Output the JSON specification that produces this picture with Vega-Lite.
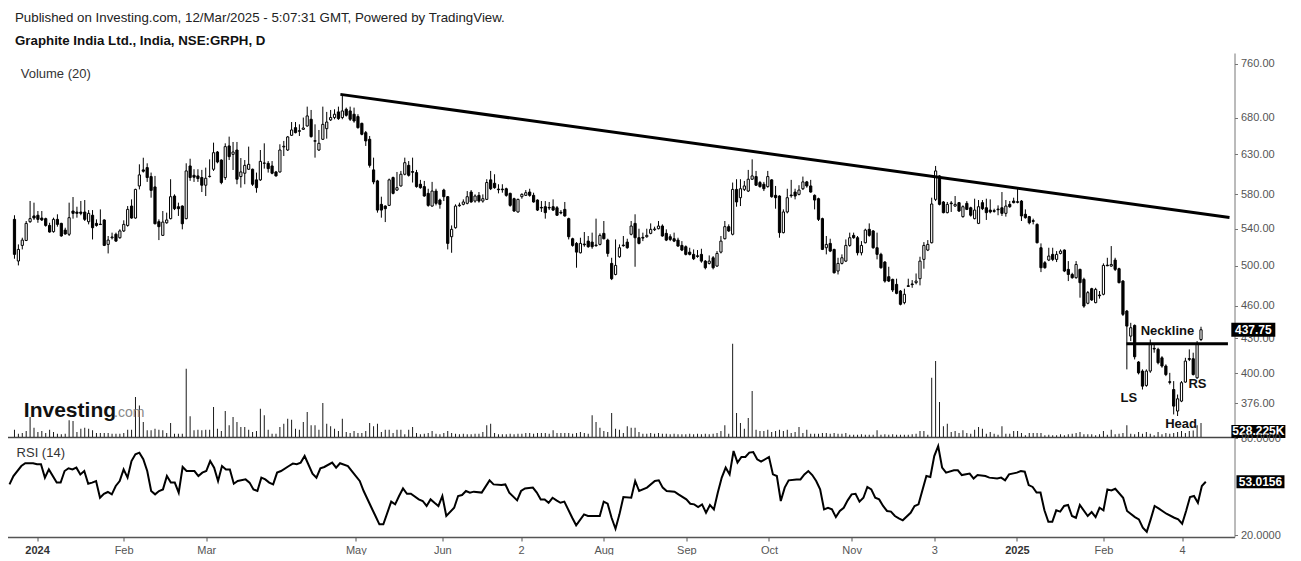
{
"$schema":"https://vega.github.io/schema/vega-lite/v6.json",
"background":"white",
"padding":{"left":4.5,"top":11,"right":0,"bottom":0},
"bounds":"flush",
"config":{"view":{"stroke":null},"font":"Liberation Sans","concat":{"spacing":0}},
"spacing":0,
"title":{"text":"Published on Investing.com, 12/Mar/2025 - 5:07:31 GMT, Powered by TradingView.","subtitle":"Graphite India Ltd., India, NSE:GRPH, D","anchor":"start","dx":9.5,"fontSize":13.3,"fontWeight":"normal","color":"#222","subtitleFontSize":13.3,"subtitleFontWeight":"bold","subtitleColor":"#111","subtitlePadding":9,"offset":6,"font":"Liberation Sans","subtitleFont":"Liberation Sans"},
"datasets":{
"candles":[
{"i":0,"o":550.5,"h":555.2,"l":507.3,"c":511.9,"v":277},
{"i":1,"o":504.9,"h":522.6,"l":500.3,"c":517.2,"v":126},
{"i":2,"o":521.5,"h":529.9,"l":517.2,"c":527.3,"v":151},
{"i":3,"o":526.9,"h":548.6,"l":526.2,"c":545.9,"v":226},
{"i":4,"o":547.8,"h":571.9,"l":546.6,"c":551.3,"v":754},
{"i":5,"o":554.4,"h":569.9,"l":549.8,"c":552.0,"v":352},
{"i":6,"o":555.2,"h":560.1,"l":546.6,"c":550.5,"v":189},
{"i":7,"o":552.0,"h":560.1,"l":548.6,"c":549.8,"v":226},
{"i":8,"o":551.3,"h":552.4,"l":542.2,"c":543.6,"v":151},
{"i":9,"o":543.6,"h":546.6,"l":535.5,"c":536.2,"v":277},
{"i":10,"o":536.6,"h":552.4,"l":535.5,"c":550.5,"v":189},
{"i":11,"o":550.5,"h":556.3,"l":542.2,"c":544.8,"v":126},
{"i":12,"o":545.9,"h":546.6,"l":531.0,"c":531.8,"v":101},
{"i":13,"o":538.4,"h":541.0,"l":533.3,"c":534.0,"v":126},
{"i":14,"o":533.7,"h":569.9,"l":531.8,"c":552.4,"v":629},
{"i":15,"o":560.1,"h":576.6,"l":551.3,"c":557.4,"v":603},
{"i":16,"o":558.9,"h":565.1,"l":552.4,"c":557.4,"v":189},
{"i":17,"o":558.9,"h":571.9,"l":555.2,"c":557.4,"v":314},
{"i":18,"o":558.9,"h":573.0,"l":548.6,"c":550.5,"v":352},
{"i":19,"o":547.8,"h":561.2,"l":544.8,"c":557.4,"v":314},
{"i":20,"o":555.2,"h":561.2,"l":528.0,"c":541.0,"v":251},
{"i":21,"o":545.9,"h":550.5,"l":542.2,"c":543.6,"v":151},
{"i":22,"o":545.0,"h":562.0,"l":544.0,"c":544.6,"v":151},
{"i":23,"o":549.8,"h":550.5,"l":520.8,"c":521.5,"v":151},
{"i":24,"o":522.6,"h":531.8,"l":512.9,"c":527.3,"v":151},
{"i":25,"o":529.9,"h":535.5,"l":528.0,"c":530.7,"v":126},
{"i":26,"o":533.7,"h":535.5,"l":525.5,"c":526.2,"v":126},
{"i":27,"o":529.9,"h":539.2,"l":528.8,"c":537.4,"v":126},
{"i":28,"o":537.4,"h":549.4,"l":536.2,"c":544.8,"v":151},
{"i":29,"o":543.6,"h":565.9,"l":542.2,"c":562.0,"v":277},
{"i":30,"o":565.9,"h":573.8,"l":551.3,"c":552.0,"v":277},
{"i":31,"o":552.0,"h":586.6,"l":551.3,"c":585.8,"v":1508},
{"i":32,"o":590.0,"h":617.1,"l":585.8,"c":603.7,"v":1194},
{"i":33,"o":610.0,"h":625.6,"l":606.6,"c":608.3,"v":566},
{"i":34,"o":612.9,"h":618.4,"l":595.0,"c":600.4,"v":251},
{"i":35,"o":601.6,"h":606.6,"l":575.8,"c":584.6,"v":251},
{"i":36,"o":588.8,"h":602.4,"l":544.8,"c":545.5,"v":314},
{"i":37,"o":547.8,"h":550.5,"l":527.3,"c":542.2,"v":277},
{"i":38,"o":532.5,"h":560.1,"l":531.8,"c":547.4,"v":251},
{"i":39,"o":546.6,"h":558.2,"l":545.5,"c":549.8,"v":151},
{"i":40,"o":551.3,"h":598.3,"l":550.5,"c":577.0,"v":528},
{"i":41,"o":577.8,"h":579.8,"l":561.2,"c":562.8,"v":126},
{"i":42,"o":565.1,"h":569.9,"l":554.4,"c":562.8,"v":126},
{"i":43,"o":565.9,"h":566.7,"l":539.2,"c":545.5,"v":126},
{"i":44,"o":551.3,"h":618.4,"l":550.5,"c":608.7,"v":2577},
{"i":45,"o":615.0,"h":624.3,"l":596.3,"c":600.4,"v":779},
{"i":46,"o":603.2,"h":610.8,"l":595.0,"c":600.8,"v":251},
{"i":47,"o":602.4,"h":610.8,"l":595.0,"c":599.1,"v":277},
{"i":48,"o":600.4,"h":610.0,"l":582.6,"c":590.9,"v":251},
{"i":49,"o":590.9,"h":612.9,"l":577.8,"c":599.5,"v":277},
{"i":50,"o":601.6,"h":623.5,"l":600.4,"c":602.0,"v":277},
{"i":51,"o":610.8,"h":645.5,"l":608.7,"c":632.2,"v":1131},
{"i":52,"o":633.1,"h":634.4,"l":618.4,"c":620.1,"v":314},
{"i":53,"o":622.6,"h":623.5,"l":592.1,"c":594.2,"v":226},
{"i":54,"o":600.3,"h":644.6,"l":597.5,"c":640.2,"v":980},
{"i":55,"o":641.1,"h":653.6,"l":622.6,"c":627.0,"v":440},
{"i":56,"o":630.0,"h":646.4,"l":609.9,"c":633.1,"v":754},
{"i":57,"o":635.7,"h":646.4,"l":592.1,"c":598.3,"v":566},
{"i":58,"o":601.6,"h":625.2,"l":587.9,"c":607.4,"v":377},
{"i":59,"o":605.8,"h":622.6,"l":592.1,"c":615.8,"v":377},
{"i":60,"o":610.8,"h":640.2,"l":610.0,"c":617.1,"v":277},
{"i":61,"o":610.8,"h":611.6,"l":590.0,"c":592.1,"v":189},
{"i":62,"o":597.5,"h":606.6,"l":581.8,"c":587.9,"v":226},
{"i":63,"o":597.5,"h":635.7,"l":596.2,"c":620.9,"v":1068},
{"i":64,"o":618.4,"h":644.6,"l":611.6,"c":618.8,"v":817},
{"i":65,"o":618.4,"h":621.3,"l":606.6,"c":611.6,"v":277},
{"i":66,"o":615.0,"h":621.3,"l":604.5,"c":605.8,"v":126},
{"i":67,"o":607.4,"h":608.7,"l":601.6,"c":602.4,"v":126},
{"i":68,"o":607.4,"h":643.3,"l":606.6,"c":635.7,"v":377},
{"i":69,"o":639.8,"h":647.8,"l":627.8,"c":640.7,"v":503},
{"i":70,"o":635.7,"h":654.5,"l":634.4,"c":653.2,"v":691},
{"i":71,"o":655.4,"h":673.7,"l":654.5,"c":662.7,"v":654},
{"i":72,"o":665.9,"h":673.7,"l":658.1,"c":659.0,"v":314},
{"i":73,"o":660.8,"h":670.5,"l":654.5,"c":661.8,"v":277},
{"i":74,"o":663.6,"h":680.0,"l":662.7,"c":665.4,"v":566},
{"i":75,"o":668.2,"h":695.6,"l":667.3,"c":682.3,"v":943},
{"i":76,"o":677.6,"h":690.8,"l":652.3,"c":653.6,"v":440},
{"i":77,"o":647.3,"h":670.5,"l":625.7,"c":648.2,"v":440},
{"i":78,"o":635.7,"h":662.7,"l":634.4,"c":644.6,"v":277},
{"i":79,"o":650.0,"h":695.6,"l":649.1,"c":670.5,"v":1282},
{"i":80,"o":664.5,"h":688.0,"l":650.9,"c":673.7,"v":503},
{"i":81,"o":676.7,"h":690.8,"l":675.2,"c":680.0,"v":402},
{"i":82,"o":680.0,"h":691.8,"l":677.6,"c":684.7,"v":314},
{"i":83,"o":688.0,"h":695.6,"l":676.7,"c":678.5,"v":226},
{"i":84,"o":680.0,"h":711.1,"l":677.6,"c":689.4,"v":691},
{"i":85,"o":691.8,"h":694.2,"l":681.4,"c":683.2,"v":189},
{"i":86,"o":689.4,"h":695.6,"l":675.2,"c":677.6,"v":151},
{"i":87,"o":684.7,"h":694.2,"l":672.8,"c":675.2,"v":226},
{"i":88,"o":681.4,"h":684.7,"l":664.5,"c":665.9,"v":151},
{"i":89,"o":671.9,"h":672.8,"l":655.4,"c":656.8,"v":151},
{"i":90,"o":659.0,"h":661.3,"l":641.1,"c":647.8,"v":226},
{"i":91,"o":650.0,"h":654.5,"l":612.9,"c":615.8,"v":528},
{"i":92,"o":610.0,"h":625.7,"l":592.1,"c":595.0,"v":402},
{"i":93,"o":596.2,"h":597.5,"l":558.2,"c":561.2,"v":503},
{"i":94,"o":567.9,"h":577.0,"l":552.4,"c":561.2,"v":189},
{"i":95,"o":565.9,"h":566.7,"l":547.4,"c":562.8,"v":277},
{"i":96,"o":566.7,"h":599.1,"l":565.9,"c":597.5,"v":277},
{"i":97,"o":600.4,"h":601.6,"l":579.8,"c":581.0,"v":151},
{"i":98,"o":585.0,"h":607.4,"l":583.8,"c":587.9,"v":277},
{"i":99,"o":590.0,"h":608.7,"l":589.2,"c":604.5,"v":277},
{"i":100,"o":604.5,"h":625.7,"l":603.2,"c":619.2,"v":101},
{"i":101,"o":615.8,"h":621.3,"l":601.6,"c":603.2,"v":277},
{"i":102,"o":607.9,"h":625.7,"l":594.2,"c":607.0,"v":377},
{"i":103,"o":606.6,"h":610.0,"l":587.9,"c":589.2,"v":151},
{"i":104,"o":592.1,"h":597.5,"l":586.6,"c":587.9,"v":101},
{"i":105,"o":589.2,"h":596.2,"l":577.0,"c":577.8,"v":126},
{"i":106,"o":581.0,"h":586.6,"l":565.1,"c":566.7,"v":151},
{"i":107,"o":565.9,"h":595.0,"l":565.1,"c":583.8,"v":226},
{"i":108,"o":583.8,"h":586.6,"l":566.7,"c":569.1,"v":126},
{"i":109,"o":573.0,"h":574.6,"l":562.8,"c":567.9,"v":101},
{"i":110,"o":585.0,"h":586.6,"l":571.8,"c":577.0,"v":151},
{"i":111,"o":577.0,"h":577.8,"l":517.2,"c":523.7,"v":226},
{"i":112,"o":531.0,"h":543.6,"l":513.6,"c":539.2,"v":151},
{"i":113,"o":541.0,"h":567.9,"l":540.0,"c":565.9,"v":126},
{"i":114,"o":566.3,"h":569.9,"l":565.1,"c":567.1,"v":101},
{"i":115,"o":567.9,"h":573.8,"l":566.7,"c":570.7,"v":126},
{"i":116,"o":569.1,"h":583.8,"l":567.9,"c":577.0,"v":101},
{"i":117,"o":582.6,"h":585.0,"l":569.9,"c":570.7,"v":101},
{"i":118,"o":571.8,"h":579.8,"l":569.9,"c":577.8,"v":126},
{"i":119,"o":578.6,"h":582.6,"l":569.9,"c":571.8,"v":126},
{"i":120,"o":571.8,"h":579.8,"l":569.9,"c":574.6,"v":189},
{"i":121,"o":573.8,"h":598.3,"l":573.0,"c":594.2,"v":440},
{"i":122,"o":597.5,"h":608.7,"l":585.0,"c":586.6,"v":503},
{"i":123,"o":593.3,"h":604.5,"l":586.6,"c":587.9,"v":151},
{"i":124,"o":586.2,"h":592.1,"l":581.0,"c":585.4,"v":101},
{"i":125,"o":586.2,"h":592.1,"l":581.8,"c":585.4,"v":101},
{"i":126,"o":586.6,"h":587.9,"l":577.0,"c":578.6,"v":101},
{"i":127,"o":581.0,"h":581.8,"l":565.1,"c":566.7,"v":126},
{"i":128,"o":574.6,"h":575.8,"l":559.0,"c":560.1,"v":101},
{"i":129,"o":559.0,"h":574.6,"l":558.2,"c":573.8,"v":126},
{"i":130,"o":577.0,"h":581.0,"l":574.6,"c":579.8,"v":126},
{"i":131,"o":578.6,"h":585.0,"l":577.8,"c":581.8,"v":151},
{"i":132,"o":582.6,"h":586.6,"l":577.0,"c":578.6,"v":151},
{"i":133,"o":578.6,"h":581.8,"l":569.9,"c":570.7,"v":126},
{"i":134,"o":573.0,"h":573.8,"l":560.1,"c":561.2,"v":151},
{"i":135,"o":564.3,"h":571.8,"l":559.0,"c":563.6,"v":151},
{"i":136,"o":565.1,"h":571.8,"l":551.3,"c":558.2,"v":151},
{"i":137,"o":564.3,"h":570.7,"l":561.2,"c":563.6,"v":126},
{"i":138,"o":565.1,"h":573.8,"l":560.1,"c":561.2,"v":251},
{"i":139,"o":563.9,"h":565.9,"l":554.4,"c":555.2,"v":151},
{"i":140,"o":558.6,"h":561.2,"l":556.3,"c":557.8,"v":151},
{"i":141,"o":562.0,"h":570.7,"l":553.6,"c":554.4,"v":151},
{"i":142,"o":551.3,"h":552.4,"l":528.0,"c":531.0,"v":151},
{"i":143,"o":528.8,"h":529.9,"l":520.1,"c":521.5,"v":126},
{"i":144,"o":523.7,"h":525.1,"l":497.9,"c":514.3,"v":151},
{"i":145,"o":513.6,"h":529.9,"l":512.9,"c":523.7,"v":189},
{"i":146,"o":523.0,"h":536.2,"l":520.1,"c":522.2,"v":151},
{"i":147,"o":526.2,"h":531.8,"l":519.0,"c":520.1,"v":126},
{"i":148,"o":525.1,"h":535.5,"l":517.9,"c":520.1,"v":817},
{"i":149,"o":521.9,"h":551.3,"l":520.1,"c":521.2,"v":566},
{"i":150,"o":522.6,"h":534.7,"l":521.5,"c":532.5,"v":352},
{"i":151,"o":534.7,"h":548.6,"l":528.0,"c":528.8,"v":226},
{"i":152,"o":527.3,"h":528.8,"l":509.4,"c":512.9,"v":189},
{"i":153,"o":502.4,"h":508.3,"l":485.3,"c":486.7,"v":905},
{"i":154,"o":491.0,"h":528.0,"l":490.1,"c":500.3,"v":314},
{"i":155,"o":509.4,"h":522.6,"l":508.3,"c":519.0,"v":277},
{"i":156,"o":521.9,"h":531.8,"l":520.1,"c":521.2,"v":151},
{"i":157,"o":525.1,"h":528.8,"l":517.9,"c":519.0,"v":402},
{"i":158,"o":533.7,"h":548.6,"l":532.5,"c":542.9,"v":352},
{"i":159,"o":545.9,"h":556.3,"l":498.9,"c":529.9,"v":352},
{"i":160,"o":529.9,"h":539.9,"l":522.6,"c":523.7,"v":189},
{"i":161,"o":530.3,"h":535.5,"l":526.2,"c":529.5,"v":126},
{"i":162,"o":531.0,"h":539.9,"l":529.9,"c":532.5,"v":126},
{"i":163,"o":534.7,"h":545.9,"l":533.7,"c":539.2,"v":151},
{"i":164,"o":538.8,"h":542.2,"l":537.4,"c":539.6,"v":126},
{"i":165,"o":539.9,"h":548.6,"l":539.2,"c":542.9,"v":151},
{"i":166,"o":542.9,"h":544.8,"l":531.0,"c":531.8,"v":126},
{"i":167,"o":534.7,"h":539.2,"l":526.2,"c":527.3,"v":126},
{"i":168,"o":531.0,"h":533.7,"l":526.2,"c":528.0,"v":101},
{"i":169,"o":528.8,"h":535.5,"l":525.1,"c":526.2,"v":126},
{"i":170,"o":527.3,"h":529.9,"l":520.1,"c":520.8,"v":101},
{"i":171,"o":521.5,"h":526.2,"l":515.4,"c":516.5,"v":101},
{"i":172,"o":520.1,"h":521.5,"l":510.8,"c":511.9,"v":101},
{"i":173,"o":514.3,"h":519.0,"l":510.8,"c":511.9,"v":126},
{"i":174,"o":511.9,"h":517.2,"l":505.9,"c":507.3,"v":101},
{"i":175,"o":510.4,"h":516.5,"l":508.3,"c":509.7,"v":126},
{"i":176,"o":511.9,"h":517.9,"l":503.1,"c":504.8,"v":101},
{"i":177,"o":504.8,"h":505.9,"l":496.2,"c":497.9,"v":126},
{"i":178,"o":502.4,"h":510.8,"l":501.3,"c":504.8,"v":101},
{"i":179,"o":508.3,"h":510.1,"l":496.2,"c":497.9,"v":126},
{"i":180,"o":499.6,"h":515.4,"l":498.9,"c":512.9,"v":151},
{"i":181,"o":514.3,"h":531.8,"l":512.9,"c":526.2,"v":226},
{"i":182,"o":528.8,"h":548.6,"l":528.0,"c":542.2,"v":440},
{"i":183,"o":542.2,"h":544.8,"l":536.2,"c":537.4,"v":126},
{"i":184,"o":533.7,"h":594.2,"l":532.5,"c":585.8,"v":3520},
{"i":185,"o":585.8,"h":598.3,"l":565.1,"c":570.7,"v":905},
{"i":186,"o":575.8,"h":598.3,"l":565.9,"c":586.6,"v":528},
{"i":187,"o":585.8,"h":596.2,"l":583.8,"c":590.0,"v":314},
{"i":188,"o":583.8,"h":610.0,"l":582.6,"c":598.3,"v":716},
{"i":189,"o":598.3,"h":623.5,"l":597.5,"c":602.4,"v":1735},
{"i":190,"o":601.6,"h":608.7,"l":590.0,"c":590.9,"v":277},
{"i":191,"o":594.2,"h":596.2,"l":587.9,"c":589.2,"v":226},
{"i":192,"o":592.1,"h":595.0,"l":583.8,"c":586.6,"v":226},
{"i":193,"o":589.2,"h":608.7,"l":587.9,"c":601.6,"v":277},
{"i":194,"o":597.5,"h":598.3,"l":575.8,"c":577.0,"v":189},
{"i":195,"o":578.6,"h":590.0,"l":562.8,"c":575.8,"v":226},
{"i":196,"o":577.8,"h":578.6,"l":529.9,"c":535.5,"v":277},
{"i":197,"o":535.5,"h":562.0,"l":534.7,"c":559.0,"v":226},
{"i":198,"o":559.0,"h":586.6,"l":557.4,"c":575.8,"v":277},
{"i":199,"o":579.0,"h":597.5,"l":575.8,"c":578.2,"v":151},
{"i":200,"o":582.6,"h":586.6,"l":573.8,"c":577.8,"v":189},
{"i":201,"o":579.8,"h":590.9,"l":578.6,"c":585.0,"v":377},
{"i":202,"o":586.6,"h":601.6,"l":585.0,"c":595.0,"v":151},
{"i":203,"o":595.0,"h":596.2,"l":587.9,"c":590.0,"v":277},
{"i":204,"o":590.0,"h":597.5,"l":581.8,"c":582.6,"v":126},
{"i":205,"o":578.6,"h":579.8,"l":562.0,"c":573.0,"v":126},
{"i":206,"o":574.6,"h":575.8,"l":548.6,"c":550.5,"v":126},
{"i":207,"o":551.3,"h":552.4,"l":516.5,"c":517.2,"v":151},
{"i":208,"o":519.0,"h":531.8,"l":511.9,"c":522.6,"v":151},
{"i":209,"o":523.7,"h":528.8,"l":514.3,"c":515.4,"v":126},
{"i":210,"o":517.2,"h":517.9,"l":492.0,"c":492.7,"v":151},
{"i":211,"o":494.5,"h":508.3,"l":491.0,"c":502.4,"v":126},
{"i":212,"o":502.4,"h":511.9,"l":501.3,"c":508.3,"v":126},
{"i":213,"o":504.8,"h":528.0,"l":503.8,"c":521.5,"v":151},
{"i":214,"o":521.5,"h":535.5,"l":520.1,"c":529.9,"v":88},
{"i":215,"o":532.5,"h":535.5,"l":528.8,"c":529.9,"v":88},
{"i":216,"o":529.9,"h":531.8,"l":510.8,"c":513.6,"v":88},
{"i":217,"o":513.6,"h":526.2,"l":510.8,"c":521.5,"v":101},
{"i":218,"o":524.4,"h":539.9,"l":523.7,"c":538.4,"v":88},
{"i":219,"o":539.2,"h":545.9,"l":531.0,"c":532.5,"v":88},
{"i":220,"o":537.4,"h":538.4,"l":517.9,"c":519.0,"v":88},
{"i":221,"o":519.0,"h":535.5,"l":506.6,"c":511.9,"v":251},
{"i":222,"o":511.9,"h":513.6,"l":496.9,"c":497.9,"v":88},
{"i":223,"o":503.8,"h":504.8,"l":482.7,"c":484.3,"v":101},
{"i":224,"o":488.7,"h":498.9,"l":483.3,"c":484.3,"v":88},
{"i":225,"o":486.0,"h":486.7,"l":473.4,"c":475.4,"v":101},
{"i":226,"o":481.0,"h":486.7,"l":471.2,"c":472.1,"v":88},
{"i":227,"o":474.4,"h":475.4,"l":460.5,"c":461.5,"v":88},
{"i":228,"o":463.1,"h":476.7,"l":461.5,"c":471.2,"v":88},
{"i":229,"o":479.6,"h":486.7,"l":478.6,"c":479.0,"v":88},
{"i":230,"o":481.4,"h":485.3,"l":477.6,"c":480.7,"v":101},
{"i":231,"o":482.7,"h":492.0,"l":481.0,"c":484.3,"v":126},
{"i":232,"o":486.7,"h":509.4,"l":480.0,"c":504.8,"v":226},
{"i":233,"o":506.6,"h":525.1,"l":496.9,"c":521.5,"v":226},
{"i":234,"o":516.5,"h":527.3,"l":515.4,"c":522.6,"v":88},
{"i":235,"o":524.4,"h":575.8,"l":523.7,"c":568.3,"v":2237},
{"i":236,"o":573.8,"h":615.0,"l":571.8,"c":608.7,"v":2866},
{"i":237,"o":602.4,"h":603.2,"l":566.7,"c":567.9,"v":1320},
{"i":238,"o":570.7,"h":571.8,"l":557.4,"c":558.2,"v":402},
{"i":239,"o":558.2,"h":570.7,"l":557.4,"c":567.9,"v":503},
{"i":240,"o":569.5,"h":571.8,"l":559.0,"c":568.7,"v":189},
{"i":241,"o":565.9,"h":577.8,"l":565.1,"c":567.9,"v":226},
{"i":242,"o":569.9,"h":570.7,"l":559.0,"c":560.1,"v":151},
{"i":243,"o":553.6,"h":566.7,"l":552.4,"c":565.1,"v":251},
{"i":244,"o":569.1,"h":571.8,"l":561.2,"c":562.0,"v":151},
{"i":245,"o":563.9,"h":565.1,"l":553.6,"c":555.2,"v":126},
{"i":246,"o":551.3,"h":574.6,"l":550.5,"c":561.2,"v":277},
{"i":247,"o":545.9,"h":573.0,"l":545.1,"c":565.1,"v":377},
{"i":248,"o":569.9,"h":573.0,"l":561.2,"c":562.8,"v":314},
{"i":249,"o":563.9,"h":574.6,"l":549.8,"c":558.2,"v":126},
{"i":250,"o":561.2,"h":573.8,"l":557.4,"c":559.0,"v":189},
{"i":251,"o":560.5,"h":562.8,"l":558.2,"c":559.7,"v":126},
{"i":252,"o":562.4,"h":566.7,"l":555.2,"c":561.6,"v":88},
{"i":253,"o":563.9,"h":582.6,"l":554.4,"c":557.4,"v":402},
{"i":254,"o":557.4,"h":573.0,"l":553.6,"c":565.9,"v":126},
{"i":255,"o":567.9,"h":571.8,"l":563.9,"c":565.1,"v":126},
{"i":256,"o":571.8,"h":575.8,"l":569.1,"c":569.9,"v":226},
{"i":257,"o":571.0,"h":586.6,"l":569.1,"c":570.3,"v":226},
{"i":258,"o":571.8,"h":573.0,"l":548.6,"c":554.4,"v":151},
{"i":259,"o":556.3,"h":562.0,"l":551.3,"c":552.4,"v":63},
{"i":260,"o":553.6,"h":554.4,"l":544.8,"c":546.6,"v":151},
{"i":261,"o":549.0,"h":551.3,"l":544.8,"c":548.2,"v":151},
{"i":262,"o":544.8,"h":545.9,"l":523.7,"c":524.4,"v":151},
{"i":263,"o":519.0,"h":523.7,"l":493.4,"c":497.9,"v":151},
{"i":264,"o":503.1,"h":504.8,"l":496.9,"c":497.9,"v":63},
{"i":265,"o":505.9,"h":519.0,"l":504.8,"c":510.1,"v":88},
{"i":266,"o":511.9,"h":519.0,"l":504.8,"c":506.6,"v":63},
{"i":267,"o":506.6,"h":515.4,"l":503.8,"c":511.9,"v":63},
{"i":268,"o":512.9,"h":517.2,"l":511.9,"c":515.4,"v":101},
{"i":269,"o":516.5,"h":517.2,"l":493.4,"c":494.5,"v":63},
{"i":270,"o":496.2,"h":504.8,"l":484.3,"c":491.0,"v":101},
{"i":271,"o":491.0,"h":492.7,"l":486.7,"c":487.7,"v":126},
{"i":272,"o":487.7,"h":504.8,"l":486.7,"c":501.3,"v":151},
{"i":273,"o":496.2,"h":496.9,"l":467.9,"c":482.7,"v":189},
{"i":274,"o":486.0,"h":487.7,"l":458.2,"c":459.8,"v":101},
{"i":275,"o":462.5,"h":474.4,"l":461.5,"c":472.8,"v":101},
{"i":276,"o":476.7,"h":477.6,"l":464.7,"c":465.7,"v":101},
{"i":277,"o":463.1,"h":477.6,"l":462.5,"c":476.0,"v":63},
{"i":278,"o":470.5,"h":474.4,"l":467.0,"c":469.8,"v":101},
{"i":279,"o":471.2,"h":502.4,"l":470.2,"c":500.3,"v":226},
{"i":280,"o":500.6,"h":508.3,"l":499.6,"c":499.9,"v":88},
{"i":281,"o":499.6,"h":520.8,"l":498.9,"c":501.3,"v":277},
{"i":282,"o":505.9,"h":508.3,"l":494.5,"c":496.2,"v":101},
{"i":283,"o":496.9,"h":497.9,"l":482.0,"c":482.7,"v":126},
{"i":284,"o":484.3,"h":485.3,"l":450.4,"c":452.0,"v":151},
{"i":285,"o":455.1,"h":456.1,"l":403.2,"c":441.1,"v":440},
{"i":286,"o":432.0,"h":444.1,"l":427.6,"c":439.6,"v":126},
{"i":287,"o":441.7,"h":442.6,"l":411.6,"c":413.9,"v":101},
{"i":288,"o":409.4,"h":410.2,"l":399.0,"c":400.3,"v":189},
{"i":289,"o":401.8,"h":403.2,"l":386.7,"c":389.4,"v":126},
{"i":290,"o":390.0,"h":403.2,"l":388.9,"c":401.8,"v":189},
{"i":291,"o":401.8,"h":429.0,"l":400.3,"c":424.6,"v":126},
{"i":292,"o":421.2,"h":424.6,"l":417.4,"c":420.6,"v":63},
{"i":293,"o":420.3,"h":421.7,"l":407.4,"c":408.8,"v":189},
{"i":294,"o":413.0,"h":414.4,"l":404.6,"c":406.0,"v":101},
{"i":295,"o":406.0,"h":407.4,"l":397.6,"c":398.9,"v":151},
{"i":296,"o":393.0,"h":400.3,"l":390.8,"c":392.5,"v":126},
{"i":297,"o":386.7,"h":393.5,"l":367.2,"c":373.6,"v":151},
{"i":298,"o":369.8,"h":382.7,"l":366.0,"c":379.3,"v":189},
{"i":299,"o":377.5,"h":393.5,"l":376.7,"c":392.2,"v":226},
{"i":300,"o":392.7,"h":413.0,"l":392.2,"c":410.2,"v":151},
{"i":301,"o":411.6,"h":420.3,"l":410.2,"c":412.4,"v":226},
{"i":302,"o":412.2,"h":417.4,"l":398.1,"c":398.9,"v":250},
{"i":303,"o":396.2,"h":427.6,"l":395.4,"c":424.6,"v":440},
{"i":304,"o":429.0,"h":440.5,"l":427.6,"c":437.75,"v":528.225}
],
"rsi":[
{"i":0,"r":51.4},{"i":1,"r":56.6},{"i":3,"r":62.8},{"i":4,"r":64.5},{"i":6,"r":64.5},{"i":7,"r":63.9},{"i":8,"r":63.9},{"i":9,"r":55.6},{"i":10,"r":60.7},{"i":12,"r":52.5},{"i":13,"r":52.5},{"i":14,"r":59.7},{"i":15,"r":61.4},{"i":16,"r":60.7},{"i":17,"r":61.8},{"i":18,"r":57.6},{"i":19,"r":59.7},{"i":20,"r":51.8},{"i":21,"r":52.5},{"i":22,"r":53.5},{"i":23,"r":43.1},{"i":24,"r":45.6},{"i":25,"r":46.7},{"i":26,"r":45.2},{"i":27,"r":50.4},{"i":28,"r":53.5},{"i":29,"r":60.7},{"i":30,"r":55.6},{"i":31,"r":65.9},{"i":32,"r":70.1},{"i":33,"r":71.1},{"i":34,"r":67.0},{"i":35,"r":59.7},{"i":36,"r":47.3},{"i":37,"r":45.2},{"i":38,"r":47.3},{"i":39,"r":48.3},{"i":40,"r":56.6},{"i":41,"r":52.5},{"i":42,"r":52.5},{"i":43,"r":46.3},{"i":44,"r":62.2},{"i":45,"r":59.7},{"i":47,"r":59.7},{"i":48,"r":56.6},{"i":49,"r":58.7},{"i":50,"r":59.7},{"i":51,"r":65.9},{"i":52,"r":61.8},{"i":53,"r":53.5},{"i":54,"r":62.8},{"i":55,"r":60.7},{"i":56,"r":60.7},{"i":57,"r":51.8},{"i":58,"r":53.5},{"i":60,"r":54.5},{"i":61,"r":52.5},{"i":62,"r":48.3},{"i":63,"r":47.3},{"i":64,"r":55.6},{"i":65,"r":54.5},{"i":66,"r":52.5},{"i":67,"r":51.4},{"i":68,"r":58.7},{"i":69,"r":59.7},{"i":71,"r":62.8},{"i":72,"r":64.3},{"i":73,"r":63.9},{"i":74,"r":64.9},{"i":75,"r":69.0},{"i":77,"r":58.1},{"i":78,"r":55.6},{"i":79,"r":61.4},{"i":80,"r":62.2},{"i":82,"r":64.9},{"i":83,"r":61.8},{"i":84,"r":64.5},{"i":86,"r":62.8},{"i":87,"r":59.7},{"i":89,"r":53.5},{"i":90,"r":47.3},{"i":92,"r":36.9},{"i":93,"r":31.8},{"i":94,"r":26.6},{"i":95,"r":26.6},{"i":97,"r":40.7},{"i":98,"r":39.0},{"i":99,"r":44.2},{"i":100,"r":48.9},{"i":101,"r":45.6},{"i":102,"r":45.6},{"i":104,"r":42.1},{"i":105,"r":41.1},{"i":106,"r":38.0},{"i":107,"r":42.1},{"i":108,"r":40.0},{"i":109,"r":38.0},{"i":110,"r":44.2},{"i":111,"r":31.8},{"i":113,"r":36.9},{"i":114,"r":44.2},{"i":115,"r":44.8},{"i":116,"r":47.3},{"i":117,"r":46.3},{"i":118,"r":46.9},{"i":120,"r":46.3},{"i":122,"r":53.9},{"i":123,"r":51.4},{"i":125,"r":51.0},{"i":126,"r":51.4},{"i":127,"r":46.3},{"i":129,"r":41.5},{"i":130,"r":47.3},{"i":131,"r":48.9},{"i":133,"r":49.4},{"i":134,"r":46.3},{"i":135,"r":42.1},{"i":136,"r":42.1},{"i":137,"r":40.0},{"i":138,"r":43.1},{"i":139,"r":41.5},{"i":140,"r":40.0},{"i":141,"r":40.7},{"i":143,"r":30.7},{"i":144,"r":26.0},{"i":146,"r":32.8},{"i":147,"r":31.8},{"i":150,"r":31.8},{"i":151,"r":40.7},{"i":152,"r":39.4},{"i":153,"r":30.7},{"i":154,"r":23.9},{"i":155,"r":32.8},{"i":156,"r":43.6},{"i":158,"r":43.1},{"i":159,"r":53.5},{"i":160,"r":47.3},{"i":162,"r":49.4},{"i":164,"r":53.5},
{"i":165,"r":53.9},{"i":166,"r":49.4},{"i":167,"r":47.3},{"i":169,"r":46.9},{"i":170,"r":45.2},{"i":172,"r":42.1},{"i":173,"r":39.4},{"i":174,"r":39.0},{"i":175,"r":37.3},{"i":176,"r":39.0},{"i":177,"r":33.8},{"i":178,"r":38.6},{"i":179,"r":35.9},{"i":180,"r":46.3},{"i":181,"r":55.6},{"i":182,"r":61.8},{"i":183,"r":57.6},{"i":184,"r":72.1},{"i":185,"r":64.9},{"i":186,"r":68.4},{"i":187,"r":68.4},{"i":188,"r":71.1},{"i":189,"r":71.5},{"i":190,"r":67.0},{"i":191,"r":65.5},{"i":193,"r":68.4},{"i":194,"r":57.6},{"i":195,"r":56.6},{"i":196,"r":41.1},{"i":197,"r":49.4},{"i":198,"r":53.9},{"i":200,"r":54.5},{"i":201,"r":54.5},{"i":202,"r":57.6},{"i":203,"r":59.7},{"i":204,"r":57.2},{"i":205,"r":53.5},{"i":206,"r":48.3},{"i":207,"r":35.9},{"i":208,"r":36.9},{"i":209,"r":35.9},{"i":210,"r":31.1},{"i":211,"r":34.9},{"i":212,"r":36.9},{"i":213,"r":41.5},{"i":214,"r":45.2},{"i":215,"r":45.6},{"i":216,"r":40.7},{"i":217,"r":43.1},{"i":218,"r":49.8},{"i":219,"r":48.3},{"i":220,"r":43.1},{"i":221,"r":42.1},{"i":222,"r":38.0},{"i":223,"r":34.9},{"i":224,"r":34.5},{"i":225,"r":31.8},{"i":226,"r":30.3},{"i":227,"r":29.1},{"i":229,"r":33.8},{"i":230,"r":38.0},{"i":231,"r":39.0},{"i":233,"r":56.6},{"i":234,"r":56.0},{"i":235,"r":69.0},{"i":236,"r":75.2},{"i":237,"r":61.8},{"i":238,"r":58.7},{"i":240,"r":60.1},{"i":241,"r":60.1},{"i":242,"r":57.2},{"i":244,"r":58.1},{"i":245,"r":55.0},{"i":246,"r":57.2},{"i":248,"r":56.6},{"i":249,"r":55.6},{"i":251,"r":55.0},{"i":252,"r":55.6},{"i":253,"r":53.9},{"i":254,"r":57.6},{"i":256,"r":58.7},{"i":257,"r":59.7},{"i":258,"r":59.3},{"i":259,"r":51.0},{"i":260,"r":49.8},{"i":261,"r":46.3},{"i":262,"r":46.3},{"i":263,"r":35.3},{"i":264,"r":28.2},{"i":265,"r":28.2},{"i":266,"r":35.3},{"i":267,"r":34.5},{"i":268,"r":38.0},{"i":269,"r":38.6},{"i":270,"r":31.8},{"i":271,"r":30.7},{"i":272,"r":38.6},{"i":274,"r":31.8},{"i":275,"r":34.2},{"i":276,"r":31.1},{"i":277,"r":36.9},{"i":278,"r":35.3},{"i":279,"r":48.3},{"i":280,"r":47.7},{"i":281,"r":48.7},{"i":283,"r":43.1},{"i":284,"r":34.9},{"i":286,"r":31.1},{"i":287,"r":29.7},{"i":288,"r":24.5},{"i":289,"r":22.0},{"i":290,"r":29.7},{"i":291,"r":38.0},{"i":292,"r":36.5},{"i":294,"r":33.2},{"i":296,"r":30.7},{"i":297,"r":29.7},{"i":298,"r":27.0},{"i":299,"r":34.9},{"i":300,"r":43.6},{"i":301,"r":44.2},{"i":302,"r":40.0},{"i":303,"r":50.4},{"i":304,"r":53.0156}
],
"lines":[
{"line":"Trendline","i":83.5,"p":713.5},{"line":"Trendline","i":311.3,"p":552.6},
{"line":"Neckline","i":284.9,"p":425.3},{"line":"Neckline","i":310.9,"p":425.3}
],
"notes":[
{"t":"Neckline","i":295.4,"p":436.7},{"t":"LS","i":285.5,"p":379.6},{"t":"RS","i":303.1,"p":391.3},{"t":"Head","i":298.9,"p":360.0}
]
},
"vconcat":[
{
"width":1227,"height":384,
"layer":[
{"data":{"name":"candles"},"mark":{"type":"bar","width":1,"color":"#1a1a1a"},
 "encoding":{
  "x":{"field":"i","type":"quantitative","scale":{"domain":[-0.508,311.3],"nice":false,"zero":false},"axis":{"orient":"bottom","title":null,"labels":false,"ticks":false,"grid":false,"domain":true,"domainColor":"#444","domainWidth":1.5,"minExtent":0,"maxExtent":0}},
  "y":{"field":"v","type":"quantitative","scale":{"domain":[0,14500],"nice":false},"axis":null}}},
{"layer":[
 {"data":{"name":"candles"},"mark":{"type":"rule","color":"black","strokeWidth":1},
  "encoding":{"x":{"field":"i","type":"quantitative"},
   "y":{"field":"h","type":"quantitative","scale":{"type":"log","domain":[350.4,777.5],"nice":false,"zero":false},"axis":{"orient":"right","title":null,"grid":false,"values":[376,400,430,460,500,540,580,630,680,760],"format":".2f","labelFontSize":11,"labelColor":"#555","tickSize":3,"tickColor":"#777","domainColor":"#777","labelPadding":3}},
   "y2":{"field":"l"}}},
 {"data":{"name":"candles"},"mark":{"type":"bar","width":2.2,"stroke":"black","strokeWidth":1},
  "encoding":{"x":{"field":"i","type":"quantitative"},
   "y":{"field":"o","type":"quantitative"},"y2":{"field":"c"},
   "fill":{"condition":{"test":"datum.c >= datum.o","value":"white"},"value":"black"}}},
 {"data":{"name":"lines"},"mark":{"type":"line","color":"black","strokeWidth":3},
  "encoding":{"x":{"field":"i","type":"quantitative"},"y":{"field":"p","type":"quantitative"},"detail":{"field":"line"}}},
 {"data":{"name":"notes"},"mark":{"type":"text","fontSize":13,"fontWeight":"bold","color":"#111","baseline":"middle","align":"center"},
  "encoding":{"x":{"field":"i","type":"quantitative"},"y":{"field":"p","type":"quantitative"},"text":{"field":"t"}}},
 {"data":{"values":[{}]},"mark":{"type":"text","text":"Volume (20)","fontSize":13,"color":"#333","align":"left","baseline":"middle"},
  "encoding":{"x":{"datum":1.6,"type":"quantitative"},"y":{"datum":744.4,"type":"quantitative"}}},
 {"data":{"values":[{}]},"mark":{"type":"text","text":"Investing","fontSize":21,"fontWeight":"bold","color":"#111","align":"left","baseline":"alphabetic"},
  "encoding":{"x":{"datum":2.4,"type":"quantitative"},"y":{"datum":365.3,"type":"quantitative"}}},
 {"data":{"values":[{}]},"mark":{"type":"text","text":".com","fontSize":14,"color":"#888","align":"left","baseline":"alphabetic"},
  "encoding":{"x":{"datum":25.5,"type":"quantitative"},"y":{"datum":365.3,"type":"quantitative"}}},
 {"data":{"values":[{}]},"mark":{"type":"tick","orient":"horizontal","size":44,"thickness":14,"color":"black","opacity":1},
  "encoding":{"x":{"datum":317.4,"type":"quantitative"},"y":{"datum":437.75,"type":"quantitative"}}},
 {"data":{"values":[{}]},"mark":{"type":"text","text":"437.75","fontSize":12,"fontWeight":"bold","color":"white","align":"center","baseline":"middle"},
  "encoding":{"x":{"datum":317.4,"type":"quantitative"},"y":{"datum":437.75,"type":"quantitative"}}},
 {"data":{"values":[{}]},"mark":{"type":"tick","orient":"horizontal","size":54,"thickness":13,"color":"black","opacity":1},
  "encoding":{"x":{"datum":318.7,"type":"quantitative"},"y":{"datum":354.5,"type":"quantitative"}}},
 {"data":{"values":[{}]},"mark":{"type":"text","text":"528.225K","fontSize":12,"fontWeight":"bold","color":"white","align":"center","baseline":"middle"},
  "encoding":{"x":{"datum":318.7,"type":"quantitative"},"y":{"datum":354.5,"type":"quantitative"}}}
]}
],
"resolve":{"scale":{"y":"independent"}}
},
{
"width":1227,"height":100,
"layer":[
 {"data":{"name":"rsi"},"mark":{"type":"line","color":"black","strokeWidth":2},
  "encoding":{
   "x":{"field":"i","type":"quantitative","scale":{"domain":[-0.508,311.3],"nice":false,"zero":false},
    "axis":{"orient":"bottom","title":null,"grid":false,"values":[7,29,50,88,110,130,151,172,193,214,235,256,278,298],
     "labelExpr":"datum.value==7?'2024':datum.value==29?'Feb':datum.value==50?'Mar':datum.value==88?'May':datum.value==110?'Jun':datum.value==130?'2':datum.value==151?'Aug':datum.value==172?'Sep':datum.value==193?'Oct':datum.value==214?'Nov':datum.value==235?'3':datum.value==256?'2025':datum.value==278?'Feb':'4'",
     "labelFontSize":11,"labelColor":{"condition":{"test":"datum.value==7||datum.value==256","value":"#333"},"value":"#555"},"labelFontWeight":{"condition":{"test":"datum.value==7||datum.value==256","value":"bold"},"value":"normal"},
     "tickSize":4,"tickColor":"#555","domainColor":"#555","domainWidth":1.5,"labelPadding":3,"labelOverlap":false,"labelFlush":false}},
   "y":{"field":"r","type":"quantitative","scale":{"domain":[18.76,80.8],"nice":false,"zero":false},
    "axis":{"orient":"right","title":null,"grid":false,"values":[20,40,60,80],"format":".4f","labelFontSize":11,"labelColor":"#555","tickSize":3,"tickColor":"#777","domainColor":"#777","labelPadding":3}}}},
 {"data":{"values":[{}]},"mark":{"type":"text","text":"RSI (14)","fontSize":13,"color":"#333","align":"left","baseline":"middle"},
  "encoding":{"x":{"datum":1.8,"type":"quantitative"},"y":{"datum":70.9,"type":"quantitative"}}},
 {"data":{"values":[{}]},"mark":{"type":"tick","orient":"horizontal","size":48,"thickness":13,"color":"black","opacity":1},
  "encoding":{"x":{"datum":317.9,"type":"quantitative"},"y":{"datum":53.0156,"type":"quantitative"}}},
 {"data":{"values":[{}]},"mark":{"type":"text","text":"53.0156","fontSize":12,"fontWeight":"bold","color":"white","align":"center","baseline":"middle"},
  "encoding":{"x":{"datum":317.9,"type":"quantitative"},"y":{"datum":53.0156,"type":"quantitative"}}}
]
}
]
}
